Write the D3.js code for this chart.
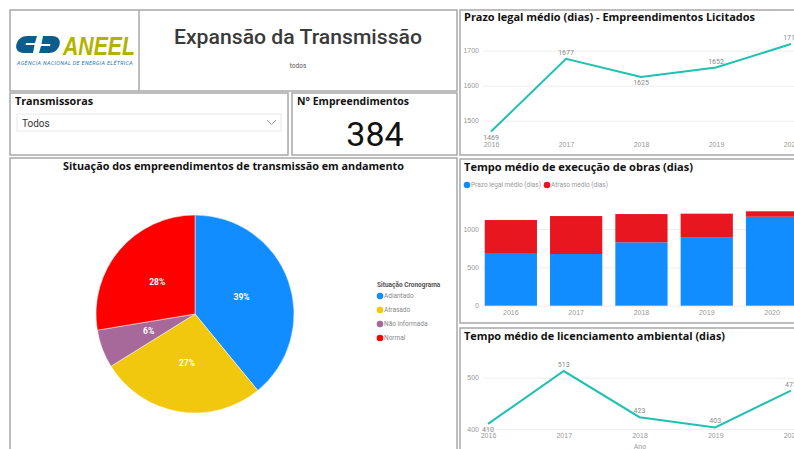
<!DOCTYPE html>
<html>
<head>
<meta charset="utf-8">
<script src="https://cdn.jsdelivr.net/npm/d3@7"></script>
<style>
  body { margin: 0; background: #fff; }
  svg { display: block; font-family: Roboto, "Open Sans", sans-serif; }
  .ttl { font-family: "Open Sans", Roboto, sans-serif; font-weight: 700; font-size: 10.5px; fill: #111; }
  .tick text { fill: #999; font-size: 7px; }
</style>
</head>
<body>
<svg id="chart"></svg>
<script>
// dados
const years = ["2016", "2017", "2018", "2019", "2020"]
const prazoLicitados = [1469, 1677, 1625, 1652, 1719]
const prazoLegalObras = [687, 674, 826, 887, 1160]
const atrasoObras = [430, 495, 369, 313, 71]
const licenciamento = [410, 513, 423, 403, 475]
const situacoes = ["Adiantado", "Atrasado", "Não Informada", "Normal"]
const situacaoQtd = [150, 104, 24, 106]
const situacaoCores = ["#118dff", "#f2c80f", "#a66999", "#ff0000"]
const totalEmpreendimentos = 384

const width = 794, height = 449
const teal = "#1fc1b0"

const svg = d3.select("#chart")
  .attr("width", width)
  .attr("height", height)

function title(x, y, len, txt, anchor) {
  return svg.append("text").attr("class", "ttl").attr("x", x).attr("y", y)
    .attr("text-anchor", anchor || "start")
    .attr("textLength", len).attr("lengthAdjust", "spacingAndGlyphs")
    .text(txt)
}

// molduras
const panels = [
  [10, 10, 447, 81], [10, 93, 278, 62], [292, 93, 165, 62],
  [10, 158, 447, 300], [460, 10, 345, 145], [460, 159, 345, 164], [460, 328, 345, 130]
]
svg.selectAll(".panel").data(panels).enter().append("rect")
  .attr("x", d => d[0]).attr("y", d => d[1])
  .attr("width", d => d[2]).attr("height", d => d[3])
  .attr("fill", "none").attr("stroke", "#a8a8a8").attr("stroke-width", 1.5)
svg.append("line").attr("x1", 139).attr("x2", 139).attr("y1", 10).attr("y2", 91)
  .attr("stroke", "#a8a8a8").attr("stroke-width", 1.5)

// logo ANEEL
const logo = svg.append("g").attr("transform", "translate(16,36)")
logo.append("path")
  .attr("d", "M11,0 L21,0 L19,7 L10,7 L9.5,9 L18.5,9 L17,17 L8,17 C2,17 -1,13 0.5,8 C2,3 6,0 11,0 Z")
  .attr("fill", "#0d5d8c")
logo.append("path")
  .attr("d", "M27,0 L36,0 C42,0 45,4 43.5,9 C42,14 38,17 33,17 L23,17 L25,10 L34,10 L34.5,8 L25.5,8 Z")
  .attr("fill", "#0d5d8c")
logo.append("text").attr("x", 47).attr("y", 18.5)
  .style("font-family", "'Liberation Sans', Arial, sans-serif")
  .style("font-style", "italic").style("font-weight", 700).style("font-size", "25px")
  .attr("fill", "#b2b300").attr("textLength", 72).attr("lengthAdjust", "spacingAndGlyphs")
  .text("ANEEL")
logo.append("text").attr("x", 1).attr("y", 29)
  .style("font-style", "italic").style("font-size", "4.6px").style("letter-spacing", "0.3px")
  .attr("fill", "#2a78b0").attr("textLength", 116).attr("lengthAdjust", "spacingAndGlyphs")
  .text("AGÊNCIA NACIONAL DE ENERGIA ELÉTRICA")

svg.append("text").attr("x", 298).attr("y", 44).attr("text-anchor", "middle")
  .style("font-size", "21px").style("font-weight", 500).attr("fill", "#3a3a3a")
  .attr("textLength", 248).attr("lengthAdjust", "spacingAndGlyphs")
  .text("Expansão da Transmissão")
svg.append("text").attr("x", 298).attr("y", 68).attr("text-anchor", "middle")
  .style("font-size", "6.5px").attr("fill", "#555").text("todos")

// Transmissoras
title(15, 105, 78, "Transmissoras")
svg.append("rect").attr("x", 17).attr("y", 114).attr("width", 264).attr("height", 17)
  .attr("fill", "#fff").attr("stroke", "#e8e8e8")
svg.append("text").attr("x", 22).attr("y", 126.5).style("font-size", "10px").attr("fill", "#333").text("Todos")
svg.append("path").attr("d", "M267,120 L271.5,124.5 L276,120").attr("fill", "none").attr("stroke", "#999")

// N° Empreendimentos
title(297, 105, 112, "N° Empreendimentos")
svg.append("text").attr("x", 375).attr("y", 146).attr("text-anchor", "middle")
  .style("font-size", "34px").attr("fill", "#111").text(totalEmpreendimentos)

// Pizza
title(63, 170, 341, "Situação dos empreendimentos de transmissão em andamento")

const pieData = d3.pie().sort(null)(situacaoQtd)
const arc = d3.arc().innerRadius(0).outerRadius(99)
const totalPie = d3.sum(situacaoQtd)
const pieG = svg.append("g").attr("transform", "translate(195,314)")
pieG.selectAll("path").data(pieData).enter().append("path")
  .attr("d", arc)
  .attr("fill", (d, i) => situacaoCores[i])
  .attr("stroke", "#fff").attr("stroke-width", 0.5)
pieG.selectAll("text").data(pieData).enter().append("text")
  .attr("transform", d => "translate(" + arc.centroid(d) + ")")
  .attr("text-anchor", "middle").attr("dy", "0.35em")
  .style("font-size", "8.5px").style("font-weight", 700).attr("fill", "#fff")
  .text(d => Math.round(d.data / totalPie * 100) + "%")

svg.append("text").attr("x", 377).attr("y", 287)
  .style("font-size", "6.5px").style("font-weight", 700).attr("fill", "#555")
  .text("Situação Cronograma")
const leg = svg.selectAll(".leg").data(situacoes).enter().append("g")
  .attr("transform", (d, i) => "translate(380," + (296 + i * 14) + ")")
leg.append("circle").attr("r", 3.3).attr("fill", (d, i) => situacaoCores[i])
leg.append("text").attr("x", 4).attr("dy", "0.35em").style("font-size", "6.5px").attr("fill", "#888").text(d => d)

// linha genérica
function lineChart(values, x, y, yTicks, labelBelow) {
  const g = svg.append("g")
  g.append("g").attr("transform", "translate(483,0)")
    .call(d3.axisLeft(y).tickValues(yTicks).tickSize(-330).tickFormat(d3.format("d")))
    .call(s => s.select(".domain").remove())
    .call(s => s.selectAll("line").attr("stroke", "#eee"))
    .call(s => s.selectAll("text").attr("x", -4))
  g.append("path").datum(values)
    .attr("d", d3.line().x((d, i) => x(years[i])).y(d => y(d)))
    .attr("fill", "none").attr("stroke", teal).attr("stroke-width", 2)
  g.selectAll(".lbl").data(values).enter().append("text")
    .attr("x", (d, i) => x(years[i]))
    .attr("y", (d, i) => y(d) + (labelBelow(i) ? 8 : -4))
    .attr("text-anchor", "middle").style("font-size", "7px").attr("fill", "#888")
    .text(d => d)
  return g
}

// Prazo legal médio
title(464, 21, 291, "Prazo legal médio (dias) - Empreendimentos Licitados")
const x1 = d3.scalePoint().domain(years).range([491, 791])
const y1 = d3.scaleLinear().domain([1450, 1730]).range([138.2, 40.2])
const isMin = (arr, i) => (i === 0 || arr[i] < arr[i - 1]) && (i === arr.length - 1 || arr[i] < arr[i + 1])
lineChart(prazoLicitados, x1, y1, [1500, 1600, 1700], i => isMin(prazoLicitados, i))
svg.append("g").attr("transform", "translate(0,139.5)")
  .call(d3.axisBottom(x1).tickSize(0))
  .call(s => s.select(".domain").remove())

// Tempo médio de execução de obras
title(464, 171, 229, "Tempo médio de execução de obras (dias)")
const legObras = [["Prazo legal médio (dias)", "#118dff", 467], ["Atraso médio (dias)", "#e8161f", 547]]
const lo = svg.selectAll(".lo").data(legObras).enter().append("g")
  .attr("transform", d => "translate(" + d[2] + ",185)")
lo.append("circle").attr("r", 3.3).attr("fill", d => d[1])
lo.append("text").attr("x", 4).attr("dy", "0.35em").style("font-size", "6.5px").attr("fill", "#999").text(d => d[0])

const xb = d3.scaleBand().domain(years).range([478.2, 804.7]).paddingInner(0.2).paddingOuter(0.1)
const yb = d3.scaleLinear().domain([0, 1300]).range([305.7, 206])
svg.append("g").attr("transform", "translate(483,0)")
  .call(d3.axisLeft(yb).tickValues([0, 500, 1000]).tickSize(-330).tickFormat(d3.format("d")))
  .call(s => s.select(".domain").remove())
  .call(s => s.selectAll("line").attr("stroke", "#eee"))
  .call(s => s.selectAll("text").attr("x", -4))
const stackData = years.map((yr, i) => ({ ano: yr, prazo: prazoLegalObras[i], atraso: atrasoObras[i] }))
const series = d3.stack().keys(["prazo", "atraso"])(stackData)
const barColors = { prazo: "#118dff", atraso: "#e8161f" }
svg.selectAll(".serie").data(series).enter().append("g")
  .attr("fill", d => barColors[d.key])
  .selectAll("rect").data(d => d).enter().append("rect")
  .attr("x", d => xb(d.data.ano))
  .attr("width", xb.bandwidth())
  .attr("y", d => yb(d[1]))
  .attr("height", d => yb(d[0]) - yb(d[1]))
svg.append("g").attr("transform", "translate(0,307.5)")
  .call(d3.axisBottom(xb).tickSize(0))
  .call(s => s.select(".domain").remove())

// Licenciamento ambiental
title(464, 340, 261, "Tempo médio de licenciamento ambiental (dias)")
const x3 = d3.scalePoint().domain(years).range([488, 791])
const y3 = d3.scaleLinear().domain([395, 530]).range([431.6, 362.3])
lineChart(licenciamento, x3, y3, [400, 500], i => i === 0)
svg.append("g").attr("transform", "translate(0,430.5)")
  .call(d3.axisBottom(x3).tickSize(0))
  .call(s => s.select(".domain").remove())
svg.append("text").attr("x", 640).attr("y", 449).attr("text-anchor", "middle")
  .style("font-size", "7px").attr("fill", "#999").text("Ano")
</script>
</body>
</html>
